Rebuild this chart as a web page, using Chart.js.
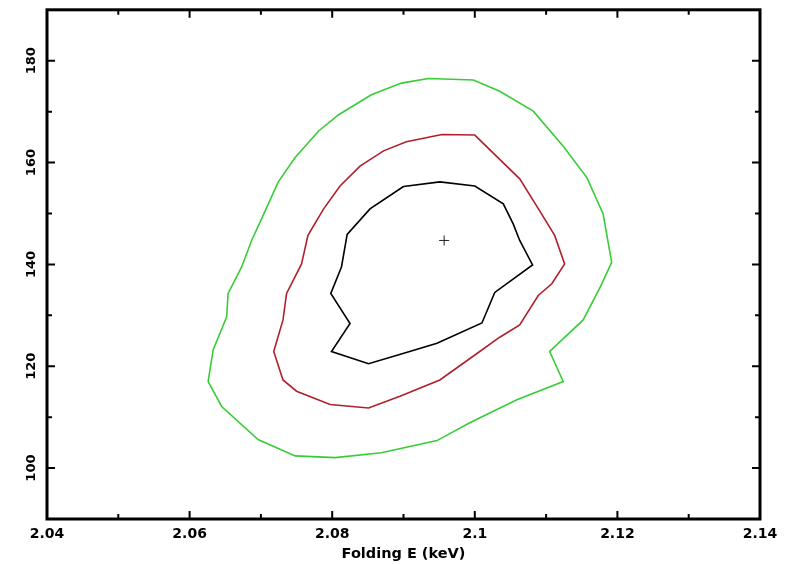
<!DOCTYPE html>
<html>
<head>
<meta charset="utf-8">
<script src="https://cdn.jsdelivr.net/npm/chart.js@4/dist/chart.umd.min.js"></script>
<style>
  html, body { margin: 0; padding: 0; background: #fff; }
  #wrap { width: 790px; height: 564px; }
</style>
</head>
<body>
<div id="wrap"><canvas id="c" width="790" height="564"></canvas></div>
<script>
// Axis ticks
const xTickValues = [2.04, 2.06, 2.08, 2.10, 2.12, 2.14];
const xTickLabels = ['2.04', '2.06', '2.08', '2.1', '2.12', '2.14'];
const xMinorTicks = [2.05, 2.07, 2.09, 2.11, 2.13];
const yTickValues = [100, 120, 140, 160, 180];
const yTickLabels = ['100', '120', '140', '160', '180'];
const yMinorTicks = [110, 130, 150, 170];

// Best-fit position
const bestX = [2.0957];
const bestY = [144.7];

// Inner confidence contour (black)
const blackX = [2.0900, 2.0951, 2.1000, 2.1040, 2.1054, 2.1063, 2.1081, 2.1028, 2.1010, 2.0947,
                2.0904, 2.0851, 2.0799, 2.0825, 2.0798, 2.0813, 2.0821, 2.0853, 2.0900];
const blackY = [155.3, 156.2, 155.4, 151.9, 147.9, 144.7, 139.9, 134.5, 128.5, 124.5,
                122.7, 120.5, 122.9, 128.4, 134.3, 139.5, 145.9, 150.9, 155.3];

// Middle confidence contour (red)
const redX = [2.0954, 2.1000, 2.1063, 2.1091, 2.1112, 2.1126, 2.1108, 2.1089, 2.1063, 2.1035,
              2.1004, 2.0951, 2.0895, 2.0851, 2.0797, 2.0750, 2.0731, 2.0718, 2.0731, 2.0736,
              2.0757, 2.0766, 2.0788, 2.0811, 2.0839, 2.0872, 2.0904, 2.0954];
const redY = [165.5, 165.4, 156.8, 150.5, 145.7, 140.1, 136.2, 133.9, 128.1, 125.7,
              122.6, 117.3, 114.1, 111.8, 112.5, 115.1, 117.3, 122.9, 129.1, 134.3,
              140.1, 145.7, 150.9, 155.4, 159.3, 162.3, 164.1, 165.5];

// Outer confidence contour (green)
const greenX = [2.0935, 2.0998, 2.1035, 2.1082, 2.1124, 2.1157, 2.1180, 2.1192, 2.1176, 2.1152,
                2.1105, 2.1124, 2.1059, 2.0993, 2.0947, 2.0869, 2.0804, 2.0748, 2.0696, 2.0645,
                2.0626, 2.0633, 2.0652, 2.0654, 2.0673, 2.0687, 2.0706, 2.0724, 2.0748, 2.0781,
                2.0809, 2.0855, 2.0897, 2.0935];
const greenY = [176.5, 176.2, 174.0, 170.1, 163.2, 157.1, 149.9, 140.4, 135.6, 129.1,
                122.9, 117.0, 113.4, 108.9, 105.4, 103.0, 102.05, 102.4, 105.6, 112.1,
                117.0, 123.2, 129.7, 134.3, 139.5, 144.7, 150.5, 156.1, 161.0, 166.2,
                169.4, 173.3, 175.6, 176.5];

const toPoints = (xs, ys) => xs.map((x, i) => ({ x: x, y: ys[i] }));

// Thick frame with inward ticks on all four sides
const framePlugin = {
  id: 'frame',
  afterDraw(chart) {
    const { ctx, chartArea: a, scales: { x, y } } = chart;
    ctx.save();
    ctx.strokeStyle = '#000';
    ctx.lineCap = 'butt';
    ctx.lineWidth = 2;
    const vTick = (v, len) => {
      const px = x.getPixelForValue(v);
      ctx.beginPath();
      ctx.moveTo(px, a.bottom); ctx.lineTo(px, a.bottom - len);
      ctx.moveTo(px, a.top); ctx.lineTo(px, a.top + len);
      ctx.stroke();
    };
    const hTick = (v, len) => {
      const py = y.getPixelForValue(v);
      ctx.beginPath();
      ctx.moveTo(a.left, py); ctx.lineTo(a.left + len, py);
      ctx.moveTo(a.right, py); ctx.lineTo(a.right - len, py);
      ctx.stroke();
    };
    xTickValues.forEach(v => vTick(v, 8));
    xMinorTicks.forEach(v => vTick(v, 5));
    yTickValues.forEach(v => hTick(v, 8));
    yMinorTicks.forEach(v => hTick(v, 5));
    ctx.lineWidth = 3;
    ctx.strokeRect(a.left, a.top, a.right - a.left, a.bottom - a.top);
    ctx.restore();
  }
};

const lineSet = (label, pts, color) => ({
  label: label,
  data: pts,
  showLine: true,
  borderColor: color,
  backgroundColor: color,
  borderWidth: 1.6,
  pointRadius: 0,
  tension: 0,
  fill: false
});

new Chart(document.getElementById('c'), {
  type: 'scatter',
  data: {
    datasets: [
      lineSet('outer', toPoints(greenX, greenY), '#38cc38'),
      lineSet('middle', toPoints(redX, redY), '#b0202c'),
      lineSet('inner', toPoints(blackX, blackY), '#000000'),
      {
        label: 'best fit',
        data: toPoints(bestX, bestY),
        pointStyle: 'cross',
        pointRadius: 5,
        borderWidth: 1,
        borderColor: '#222',
        backgroundColor: '#222'
      }
    ]
  },
  options: {
    responsive: false,
    animation: false,
    layout: { padding: { top: 8, right: 30, left: 0, bottom: 0 } },
    plugins: {
      legend: { display: false },
      tooltip: { enabled: false }
    },
    scales: {
      x: {
        type: 'linear',
        min: 2.04,
        max: 2.14,
        grid: { display: false, drawTicks: false },
        border: { display: false },
        afterBuildTicks: s => { s.ticks = xTickValues.map(v => ({ value: v })); },
        afterFit: s => { s.height = 45; },
        ticks: {
          autoSkip: false,
          maxRotation: 0,
          minRotation: 0,
          padding: 7,
          color: '#000',
          font: { family: 'DejaVu Sans', weight: 'bold', size: 14 },
          callback: (v, i) => xTickLabels[i]
        },
        title: {
          display: true,
          text: 'Folding E (keV)',
          color: '#000',
          padding: { top: 0, bottom: 1 },
          font: { family: 'DejaVu Sans', weight: 'bold', size: 14.5 }
        }
      },
      y: {
        type: 'linear',
        min: 90,
        max: 190,
        grid: { display: false, drawTicks: false },
        border: { display: false },
        afterBuildTicks: s => { s.ticks = yTickValues.map(v => ({ value: v })); },
        afterFit: s => { s.width = 47; },
        ticks: {
          autoSkip: false,
          minRotation: 90,
          maxRotation: 90,
          crossAlign: 'center',
          padding: 2,
          color: '#000',
          font: { family: 'DejaVu Sans', weight: 'bold', size: 13 },
          callback: (v, i) => yTickLabels[i]
        }
      }
    }
  },
  plugins: [framePlugin]
});
</script>
</body>
</html>
